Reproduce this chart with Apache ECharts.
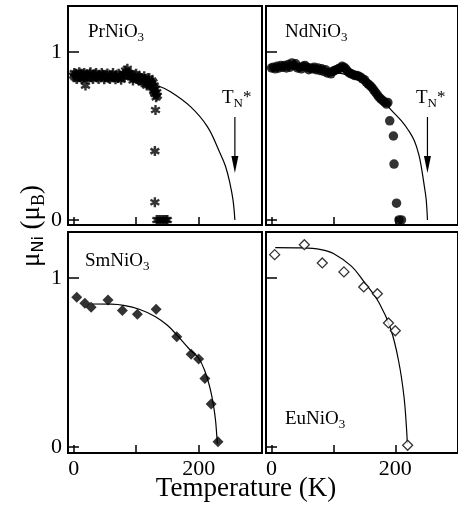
<!DOCTYPE html>
<html>
<head>
<meta charset="utf-8">
<script src="https://cdn.jsdelivr.net/npm/echarts@6/dist/echarts.min.js"></script>
<style>
html, body { margin: 0; padding: 0; background: #fff; }
#chart { width: 458px; height: 510px; }
</style>
</head>
<body>
<div id="chart"></div>
<script>
// [T (K), mu_Ni (mu_B)]
const prPoints = [
  [0, 0.86], [2, 0.85], [4, 0.87], [6, 0.855], [8, 0.865], [10, 0.85], [12, 0.87], [14, 0.86],
  [16, 0.845], [19, 0.80], [20, 0.865], [23, 0.855], [26, 0.87], [29, 0.85], [32, 0.86], [35, 0.865],
  [38, 0.85], [41, 0.86], [44, 0.855], [47, 0.865], [50, 0.85], [53, 0.86], [56, 0.845], [59, 0.855],
  [62, 0.86], [65, 0.85], [68, 0.855], [71, 0.845], [74, 0.86], [77, 0.85], [80, 0.87], [83, 0.89],
  [86, 0.90], [88, 0.875], [90, 0.86], [93, 0.85], [96, 0.845], [99, 0.855], [102, 0.84], [105, 0.83],
  [108, 0.845], [110, 0.835], [112, 0.82], [114, 0.84], [116, 0.825], [118, 0.81], [120, 0.83], [122, 0.80],
  [124, 0.815], [126, 0.79], [127, 0.82], [128, 0.77], [129, 0.80], [130, 0.75], [131, 0.78], [132, 0.73],
  [133, 0.76], [134, 0.74],
  [1, 0.875], [5, 0.84], [9, 0.88], [13, 0.84], [17, 0.875], [22, 0.84], [27, 0.88], [31, 0.84],
  [36, 0.875], [40, 0.84], [45, 0.875], [49, 0.838], [54, 0.872], [58, 0.84], [63, 0.875], [67, 0.838],
  [72, 0.87], [76, 0.835], [81, 0.85], [85, 0.875], [91, 0.875], [95, 0.83], [100, 0.87], [104, 0.855],
  [109, 0.82], [113, 0.855], [117, 0.80], [121, 0.845], [125, 0.83], [129, 0.76],
  [131, 0.655], [130, 0.41], [130, 0.105],
  [133, 0], [136, 0], [139, 0], [142, 0], [145, 0], [148, 0], [150, 0]
]
const prFit = [
  [0, 0.86], [40, 0.858], [80, 0.845], [110, 0.825], [134, 0.80], [155, 0.764], [187, 0.675],
  [214, 0.556], [234, 0.40], [243, 0.32], [250, 0.22], [255, 0.12], [258, 0]
]
const ndPoints = [
  [0, 0.905], [3, 0.91], [6, 0.90], [9, 0.915], [12, 0.905], [15, 0.92], [18, 0.91], [21, 0.92],
  [24, 0.905], [27, 0.925], [30, 0.91], [33, 0.935], [36, 0.92], [39, 0.93], [42, 0.905], [45, 0.91],
  [48, 0.90], [51, 0.915], [54, 0.92], [57, 0.91], [60, 0.895], [63, 0.905], [66, 0.90], [69, 0.91],
  [72, 0.895], [75, 0.905], [78, 0.89], [81, 0.90], [84, 0.885], [87, 0.895], [90, 0.875], [93, 0.88],
  [96, 0.87], [99, 0.885], [102, 0.89], [105, 0.895], [108, 0.90], [111, 0.905], [114, 0.915], [117, 0.91],
  [120, 0.90], [123, 0.885], [126, 0.875], [129, 0.87], [132, 0.865], [135, 0.86], [138, 0.86], [141, 0.855],
  [144, 0.85], [147, 0.84], [150, 0.835], [153, 0.82], [156, 0.81], [159, 0.80], [162, 0.79], [165, 0.775],
  [168, 0.76], [171, 0.745], [174, 0.73], [177, 0.72], [180, 0.71], [183, 0.70], [186, 0.69], [188, 0.70],
  [191, 0.59], [197, 0.50], [198, 0.333], [202, 0.10], [206, 0], [210, 0]
]
const ndFit = [
  [0, 0.905], [50, 0.90], [100, 0.88], [130, 0.855], [150, 0.82], [170, 0.76], [191, 0.665],
  [210, 0.59], [222, 0.53], [231, 0.47], [238, 0.39], [242, 0.317], [247, 0.20], [250, 0.12], [252, 0]
]
const smPoints = [
  [5, 0.886], [18, 0.850], [28, 0.827], [55, 0.870], [78, 0.807], [102, 0.785], [132, 0.815],
  [165, 0.653], [188, 0.548], [200, 0.521], [210, 0.406], [220, 0.254], [231, 0.031]
]
const smFit = [
  [30, 0.846], [60, 0.845], [80, 0.838], [105, 0.815], [131, 0.771], [150, 0.72], [165, 0.663],
  [185, 0.58], [200, 0.525], [210, 0.45], [219, 0.337], [224, 0.24], [227, 0.16], [229, 0.07], [230, 0.02]
]
const euPoints = [
  [5, 1.138], [53, 1.197], [82, 1.089], [117, 1.036], [149, 0.947], [171, 0.907], [189, 0.734],
  [200, 0.688], [220, 0.01]
]
const euFit = [
  [6, 1.18], [50, 1.178], [80, 1.168], [100, 1.145], [129, 1.07], [149, 0.98], [174, 0.852],
  [193, 0.694], [206, 0.497], [214, 0.30], [218, 0.12], [219.5, 0.02]
]
const xTicks = [0, 100, 200]
const xTickLabels = [0, 200]
const yTicks = [0, 1]
const tnPr = 258
const tnNd = 252
const arrowFrom = 0.613
const arrowTo = 0.28

const serif = '"Liberation Serif", "DejaVu Serif", serif'
const asterisk = 'path://M-1.2,-5L1.2,-5L1.2,5L-1.2,5Z' +
  'M3.73,3.539L-4.93,-1.461L-3.73,-3.539L4.93,1.461Z' +
  'M4.93,-1.461L-3.73,3.539L-4.93,1.461L3.73,-3.539Z'

const grids = [
  { left: 68, top: 6, width: 194, height: 219 },
  { left: 266, top: 6, width: 194, height: 219 },
  { left: 68, top: 232, width: 194, height: 221 },
  { left: 266, top: 232, width: 194, height: 221 }
]
const yRanges = [[-0.03, 1.274], [-0.03, 1.274], [-0.0355, 1.272], [-0.0355, 1.272]]

const chart = echarts.init(document.getElementById('chart'))

function fitLine (data, i) {
  return {
    type: 'line', xAxisIndex: i, yAxisIndex: i, data: data, smooth: 0.4,
    showSymbol: false, z: 2, lineStyle: { color: '#000', width: 1.2 }
  }
}

chart.setOption({
  animation: false,
  backgroundColor: '#fff',
  grid: grids.map(g => Object.assign({ show: true, borderColor: '#000', borderWidth: 2, backgroundColor: 'transparent' }, g)),
  xAxis: grids.map((g, i) => ({
    type: 'value', gridIndex: i, min: -9, max: 301.4,
    axisLine: { show: false, onZero: false },
    splitLine: { show: false },
    axisTick: { show: true, inside: true, length: 8, customValues: xTicks, lineStyle: { color: '#000', width: 1.5 } },
    axisLabel: { show: i >= 2, customValues: xTickLabels, margin: 5, color: '#000', fontSize: 22, fontFamily: serif }
  })),
  yAxis: grids.map((g, i) => ({
    type: 'value', gridIndex: i, min: yRanges[i][0], max: yRanges[i][1],
    axisLine: { show: false, onZero: false },
    splitLine: { show: false },
    axisTick: { show: true, inside: true, length: 11, customValues: yTicks, lineStyle: { color: '#000', width: 1.5 } },
    axisLabel: { show: i % 2 === 0, customValues: yTicks, margin: 6, color: '#000', fontSize: 22, fontFamily: serif }
  })),
  series: [
    fitLine(prFit, 0),
    { type: 'scatter', xAxisIndex: 0, yAxisIndex: 0, data: prPoints, symbol: asterisk, symbolSize: 10, z: 3, itemStyle: { color: '#000' } },
    fitLine(ndFit, 1),
    { type: 'scatter', xAxisIndex: 1, yAxisIndex: 1, data: ndPoints, symbol: 'circle', symbolSize: 9.5, z: 3, itemStyle: { color: '#000' } },
    fitLine(smFit, 2),
    { type: 'scatter', xAxisIndex: 2, yAxisIndex: 2, data: smPoints, symbol: 'diamond', symbolSize: 11, z: 3, itemStyle: { color: '#000' } },
    fitLine(euFit, 3),
    { type: 'scatter', xAxisIndex: 3, yAxisIndex: 3, data: euPoints, symbol: 'diamond', symbolSize: 10, z: 3, itemStyle: { color: '#fff', borderColor: '#000', borderWidth: 1.3 } }
  ]
})

// labels with subscripts: top padding pushes a rich token down by half its value
const labelRich = {
  m: { fontFamily: serif, fontSize: 19, lineHeight: 20, color: '#000' },
  s: { fontFamily: serif, fontSize: 13, lineHeight: 20, padding: [12, 0, 0, 0], color: '#000' },
  a: { fontFamily: serif, fontSize: 17, lineHeight: 20, color: '#000' }
}
function richText (x, y, text) {
  return { type: 'text', x: x, y: y, z: 10, style: { text: text, rich: labelRich, align: 'left', verticalAlign: 'top' } }
}
function tnArrow (i, t) {
  const a = chart.convertToPixel({ gridIndex: i }, [t, arrowFrom])
  const b = chart.convertToPixel({ gridIndex: i }, [t, arrowTo])
  return [
    { type: 'line', z: 10, shape: { x1: a[0], y1: a[1], x2: b[0], y2: b[1] - 12 }, style: { stroke: '#000', lineWidth: 1.2 } },
    { type: 'polygon', z: 10, shape: { points: [[b[0] - 3.5, b[1] - 17], [b[0] + 3.5, b[1] - 17], [b[0], b[1]]] }, style: { fill: '#000' } }
  ]
}

chart.setOption({
  graphic: [
    richText(88, 22, '{m|PrNiO}{s|3}'),
    richText(285, 22, '{m|NdNiO}{s|3}'),
    richText(85, 251, '{m|SmNiO}{s|3}'),
    richText(285, 409, '{m|EuNiO}{s|3}'),
    richText(222, 88, '{m|T}{s|N}{a|*}'),
    richText(416, 88, '{m|T}{s|N}{a|*}'),
    ...tnArrow(0, tnPr),
    ...tnArrow(1, tnNd),
    {
      type: 'text', x: 246, y: 489, z: 10,
      style: { text: 'Temperature (K)', font: '27px ' + serif, fill: '#000', align: 'center', verticalAlign: 'middle' }
    },
    {
      type: 'text', x: 32, y: 226, rotation: Math.PI / 2, z: 10,
      style: {
        text: '{m|μ}{s|Ni}{m| (μ}{b|B}{m|)}',
        align: 'center',
        verticalAlign: 'middle',
        rich: {
          m: { fontFamily: serif, fontSize: 27, lineHeight: 28, color: '#000' },
          s: { fontFamily: '"DejaVu Sans", sans-serif', fontSize: 16, lineHeight: 28, padding: [14, 0, 0, 0], color: '#000' },
          b: { fontFamily: serif, fontSize: 18, lineHeight: 28, padding: [14, 0, 0, 0], color: '#000' }
        }
      }
    }
  ]
})

window.addEventListener('resize', () => chart.resize())
</script>
</body>
</html>
